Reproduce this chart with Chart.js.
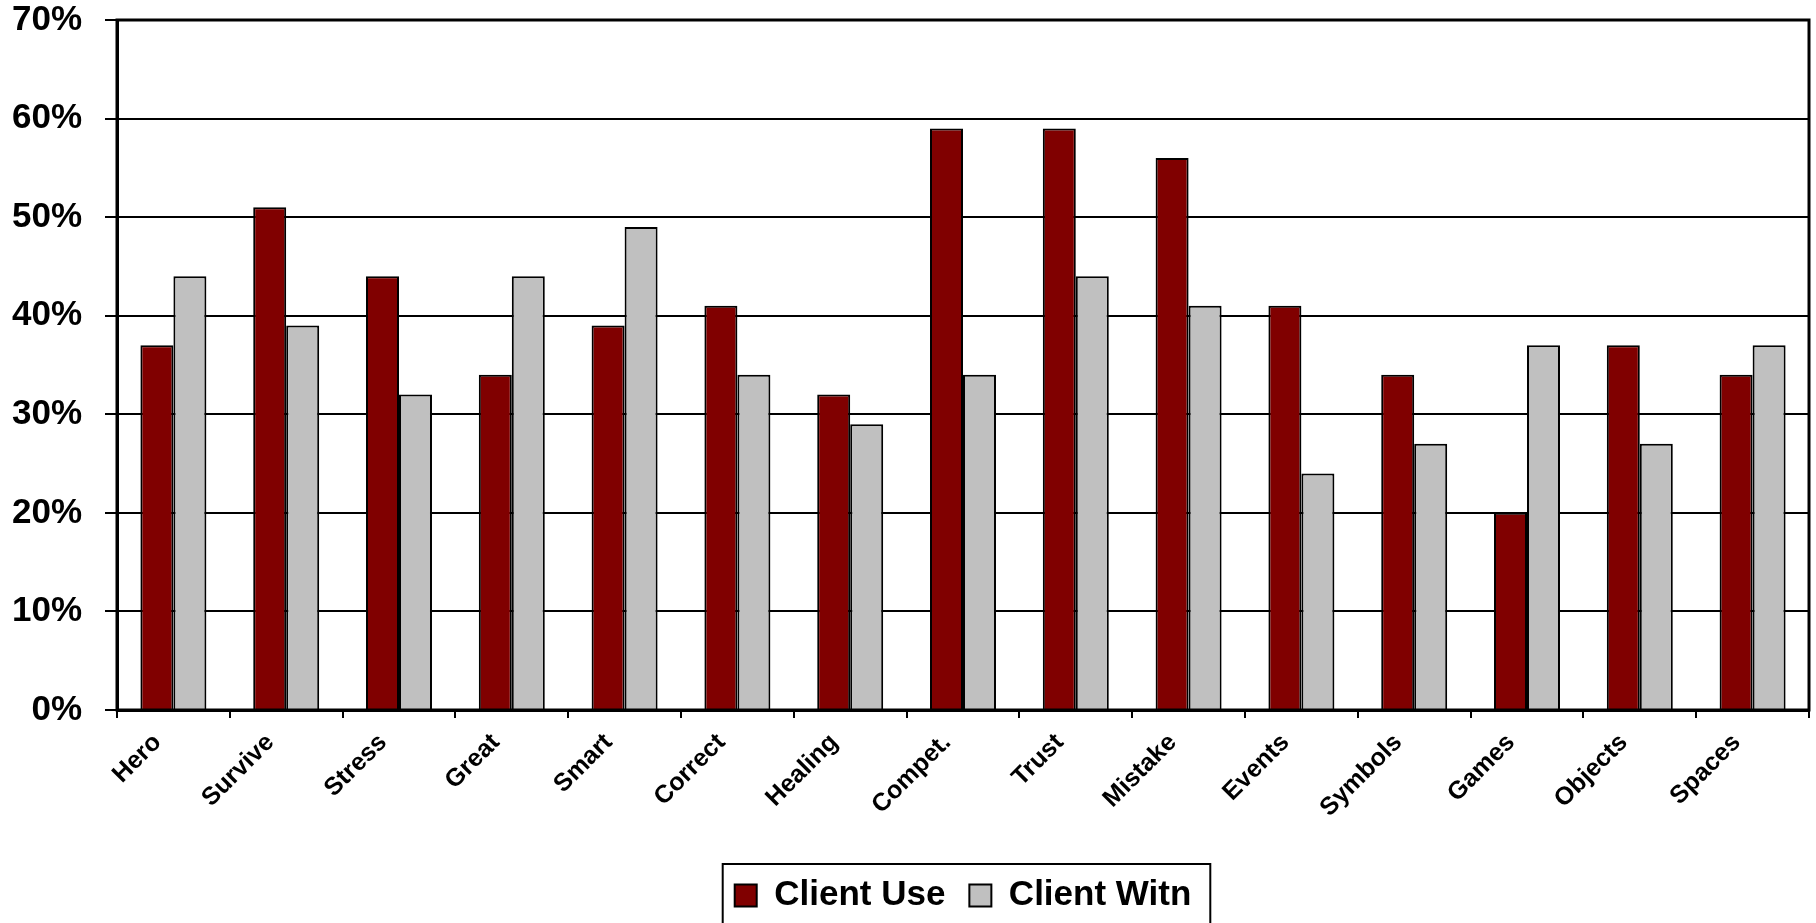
<!DOCTYPE html>
<html>
<head>
<meta charset="utf-8">
<script src="https://cdn.jsdelivr.net/npm/chart.js@4"></script>
<style>
    html, body { margin: 0; padding: 0; background: #fff; overflow: hidden; }
    #wrap { width: 1816px; height: 923px; }
</style>
</head>
<body>
<div id="wrap"><canvas id="chart"></canvas></div>
<script>
const categories = ['Hero', 'Survive', 'Stress', 'Great', 'Smart', 'Correct', 'Healing', 'Compet.',
    'Trust', 'Mistake', 'Events', 'Symbols', 'Games', 'Objects', 'Spaces'];
const clientUse = [37, 51, 44, 34, 39, 41, 32, 59, 59, 56, 41, 34, 20, 37, 34];
const clientWitn = [44, 39, 32, 44, 49, 34, 29, 34, 44, 41, 24, 27, 37, 27, 37];
const yTicks = [0, 10, 20, 30, 40, 50, 60, 70];

Chart.defaults.font.family = '"Liberation Sans", Arial, sans-serif';
Chart.defaults.font.weight = 'bold';
Chart.defaults.color = '#000';

// plot area frame + box around the legend
const frames = {
    id: 'frames',
    afterDraw(chart) {
        const ctx = chart.ctx;
        const a = chart.chartArea;
        ctx.save();
        ctx.strokeStyle = '#000';
        ctx.lineWidth = 3;
        ctx.strokeRect(a.left, a.top, a.right - a.left, a.bottom - a.top);

        const hb = chart.legend.legendHitBoxes;
        if (hb && hb.length) {
            const first = hb[0], last = hb[hb.length - 1];
            const x1 = first.left - 12;
            const x2 = last.left + last.width + 19;
            const y1 = first.top - 14;
            const y2 = first.top + first.height + 14;
            ctx.lineWidth = 2;
            ctx.strokeRect(x1, y1, x2 - x1, y2 - y1);
        }
        ctx.restore();
    }
};

new Chart(document.getElementById('chart'), {
    type: 'bar',
    data: {
        labels: categories,
        datasets: [{
            label: 'Client Use',
            data: clientUse,
            backgroundColor: '#800000',
            borderColor: '#000',
            borderWidth: 2,
            categoryPercentage: 0.585,
            barPercentage: 1
        }, {
            label: 'Client Witn',
            data: clientWitn,
            backgroundColor: '#C0C0C0',
            borderColor: '#000',
            borderWidth: 2,
            categoryPercentage: 0.585,
            barPercentage: 1
        }]
    },
    options: {
        responsive: true,
        maintainAspectRatio: false,
        animation: false,
        layout: { padding: { top: 20, right: 7, left: 0, bottom: 0 } },
        plugins: {
            tooltip: { enabled: false },
            legend: {
                position: 'bottom',
                fullSize: false,
                labels: {
                    font: { size: 35, weight: 'bold' },
                    color: '#000',
                    boxWidth: 22,
                    boxHeight: 22,
                    padding: 24
                }
            }
        },
        scales: {
            x: {
                grid: {
                    drawOnChartArea: false,
                    drawTicks: true,
                    tickLength: 8,
                    color: '#000',
                    lineWidth: 2
                },
                border: { color: '#000', width: 3 },
                ticks: {
                    autoSkip: false,
                    maxRotation: 45,
                    minRotation: 45,
                    padding: 10,
                    labelOffset: -16,
                    font: { size: 25, weight: 'bold' },
                    color: '#000'
                },
                afterFit(scale) {
                    scale.height = 144;
                    scale.paddingLeft = 0;
                    scale.paddingRight = 0;
                }
            },
            y: {
                min: 0,
                max: 70,
                afterBuildTicks(scale) { scale.ticks = yTicks.map(v => ({ value: v })); },
                grid: {
                    color: '#000',
                    lineWidth: 2,
                    tickLength: 12
                },
                border: { color: '#000', width: 3 },
                ticks: {
                    padding: 23,
                    font: { size: 35, weight: 'bold' },
                    color: '#000',
                    callback: v => v + '%'
                },
                afterFit(scale) {
                    scale.width = 117;
                    scale.paddingTop = 10;
                    scale.paddingBottom = 10;
                }
            }
        }
    },
    plugins: [frames]
});
</script>
</body>
</html>
